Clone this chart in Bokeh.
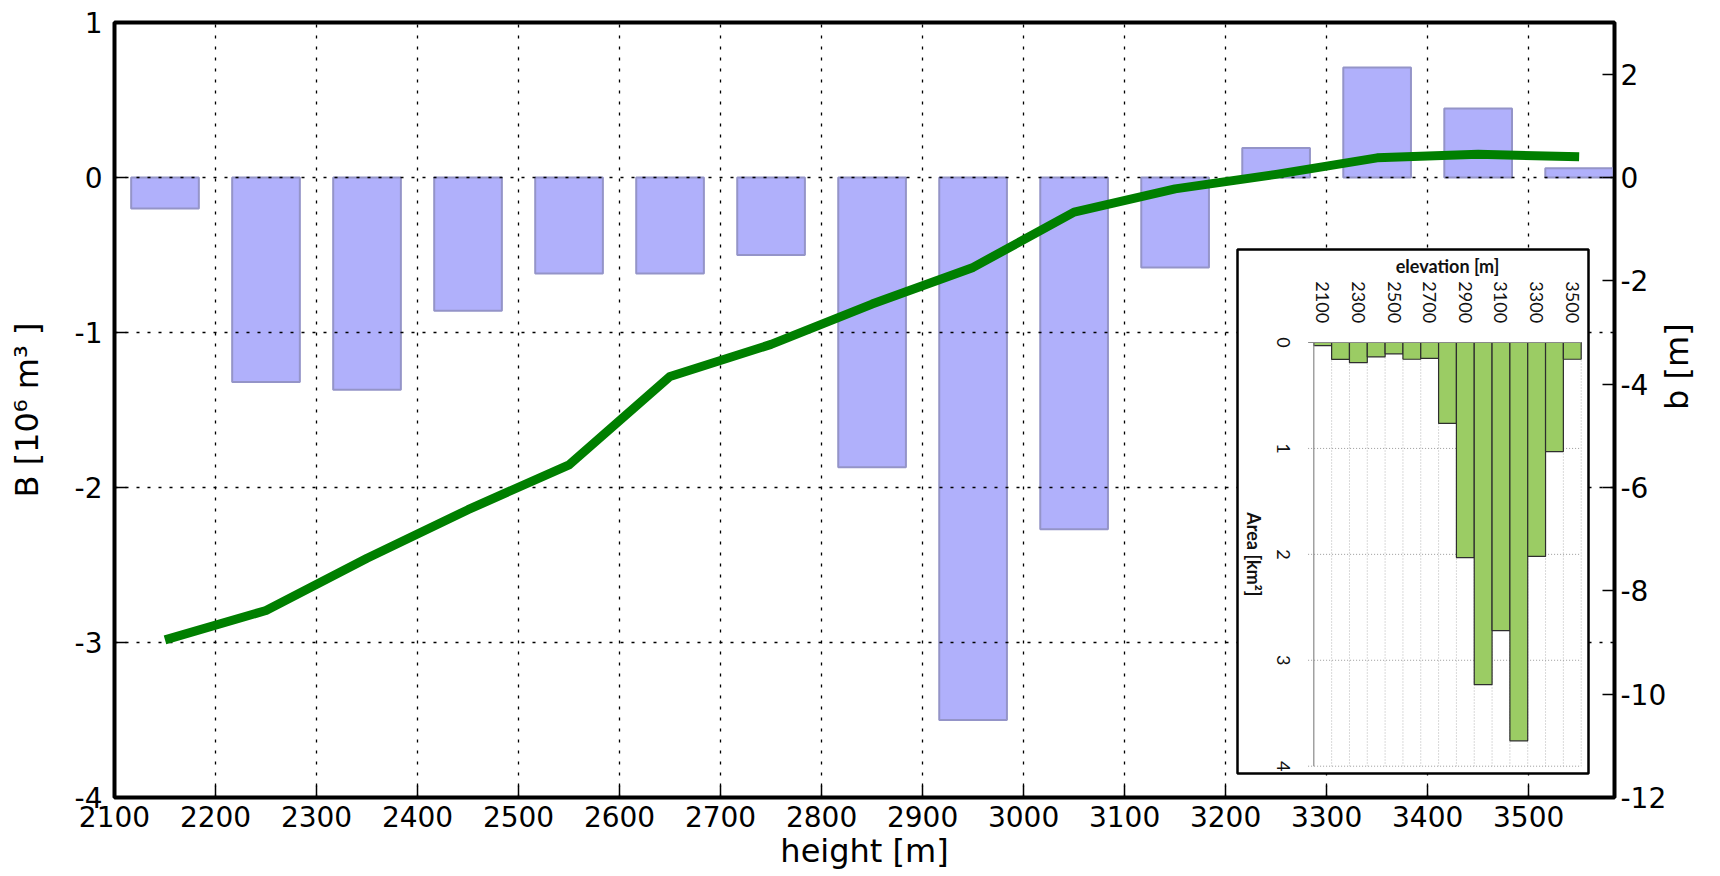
import numpy as np
from bokeh.plotting import figure
from bokeh.models import Range1d, LinearAxis, FixedTicker
from bokeh.core.properties import value
from bokeh.embed import file_html
from bokeh.resources import INLINE

# ---------------- data ----------------
heights = [2150, 2250, 2350, 2450, 2550, 2650, 2750, 2850, 2950, 3050, 3150, 3250, 3350, 3450, 3550]
B_volume = [-0.20, -1.32, -1.37, -0.86, -0.62, -0.62, -0.50, -1.87, -3.50, -2.27, -0.58, 0.19, 0.71, 0.445, 0.06]
b_specific = [-8.95, -8.38, -7.37, -6.43, -5.56, -3.85, -3.23, -2.45, -1.74, -0.67, -0.22, 0.06, 0.38, 0.45, 0.40]
x_ticks = [2100, 2200, 2300, 2400, 2500, 2600, 2700, 2800, 2900, 3000, 3100, 3200, 3300, 3400, 3500]
B_ticks = [-4, -3, -2, -1, 0, 1]
b_ticks = [-12, -10, -8, -6, -4, -2, 0, 2]

inset_elev = [2100, 2200, 2300, 2400, 2500, 2600, 2700, 2800, 2900, 3000, 3100, 3200, 3300, 3400, 3500]
inset_area = [0.03, 0.16, 0.19, 0.136, 0.107, 0.158, 0.15, 0.764, 2.03, 3.23, 2.72, 3.76, 2.02, 1.03, 0.158]
inset_elev_labels = [2100, 2300, 2500, 2700, 2900, 3100, 3300, 3500]
inset_area_ticks = [0, 1, 2, 3, 4]

# ---------------- layout ----------------
W, H = 1720, 876
FL, FR, FT, FB = 114, 1614, 22, 797          # frame edges in pixels
XR = (2100, 3585)
YR = (-4, 1)

p = figure(width=W, height=H, x_range=Range1d(*XR), y_range=Range1d(*YR),
           output_backend="svg", toolbar_location=None,
           min_border_left=FL, min_border_right=W - FR, min_border_top=FT, min_border_bottom=H - FB,
           background_fill_color="white", border_fill_color="white")
p.extra_y_ranges = {"b": Range1d(-12, 3)}
raxis = LinearAxis(y_range_name="b", axis_label="b [m]")
p.add_layout(raxis, "right")

p.outline_line_color = "black"
p.outline_line_width = 4

FONT = "DejaVu Sans"
for ax in [p.xaxis[0], p.yaxis[0], raxis]:
    ax.major_tick_in = 12
    ax.major_tick_out = 0
    ax.minor_tick_line_color = None
    ax.axis_line_color = "black"
    ax.axis_line_width = 3
    ax.major_tick_line_color = "black"
    ax.major_tick_line_width = 1.5
    ax.major_label_text_font = FONT
    ax.major_label_text_font_size = "28px"
    ax.major_label_text_color = "black"
    ax.axis_label_text_font = FONT
    ax.axis_label_text_font_size = "32px"
    ax.axis_label_text_font_style = "normal"
    ax.axis_label_text_color = "black"

p.xaxis[0].ticker = FixedTicker(ticks=x_ticks)
p.yaxis[0].ticker = FixedTicker(ticks=B_ticks)
raxis.ticker = FixedTicker(ticks=b_ticks)
p.yaxis[0].major_label_overrides = {t: str(t) for t in B_ticks}
raxis.major_label_overrides = {t: str(t) for t in b_ticks}
p.xaxis[0].axis_label = "height [m]"
p.yaxis[0].axis_label = "B [10\u2076 m\u00b3 ]"
p.xaxis[0].major_label_standoff = 8
p.xaxis[0].axis_label_standoff = 2
p.yaxis[0].major_label_standoff = 12
p.yaxis[0].axis_label_standoff = 26
raxis.major_label_standoff = 6
raxis.axis_label_standoff = 8
raxis.axis_label_orientation = np.pi / 2

for g in [p.xgrid[0], p.ygrid[0]]:
    g.grid_line_color = "black"
    g.grid_line_dash = "3 8"
    g.grid_line_width = 1.3
    g.level = "guide"

# bars (left axis) and line (right axis)
p.vbar(x=heights, top=B_volume, bottom=0, width=67,
       fill_color="#b0b0fb", line_color="#9494c8", line_width=2)
p.line(heights, b_specific, y_range_name="b", line_color="#007f00", line_width=9,
       line_join="round", level="annotation")

# ---------------- inset ----------------
def px2x(px):
    return XR[0] + (px - FL) * (XR[1] - XR[0]) / (FR - FL)

def px2y(py):
    return YR[1] - (py - FT) * (YR[1] - YR[0]) / (FB - FT)

BOX_L, BOX_R, BOX_T, BOX_B = 1237, 1588, 249, 773      # inset box pixels
PLOT_L, PLOT_R = 1313.3, 1580.7                        # inset column area pixels
ZERO_Y, FOUR_Y = 342.0, 765.7                          # inset value axis pixels
col_w = (PLOT_R - PLOT_L) / len(inset_elev)            # px per 100 m
unit_y = (FOUR_Y - ZERO_Y) / 4.0                       # px per km2
e0 = inset_elev[0] - 50
e1 = inset_elev[-1] + 50

xs_src = Range1d(e0 - (PLOT_L - BOX_L) * 100 / col_w, e1 + (BOX_R - PLOT_R) * 100 / col_w)
ys_src = Range1d((BOX_B - ZERO_Y) / unit_y, (BOX_T - ZERO_Y) / unit_y)
sub = p.subplot(x_source=xs_src, y_source=ys_src,
                x_target=Range1d(px2x(BOX_L), px2x(BOX_R)),
                y_target=Range1d(px2y(BOX_B), px2y(BOX_T)))

sub.quad(left=[xs_src.start], right=[xs_src.end], bottom=[ys_src.start], top=[ys_src.end],
         fill_color="white", line_color="black", line_width=2.5, level="overlay")

tick_len = 32
edges = [e + 50 for e in inset_elev]
# grid
sub.segment(x0=edges, y0=[0] * len(edges), x1=edges, y1=[4] * len(edges),
            line_color="#b4b4b4", line_dash="1 2", line_width=1, level="overlay")
sub.segment(x0=[e0 - tick_len] * 4, y0=inset_area_ticks[1:], x1=[e1] * 4, y1=inset_area_ticks[1:],
            line_color="#9a9a9a", line_dash="1 2", line_width=1, level="overlay")
# bars
sub.quad(left=[e - 50 for e in inset_elev], right=[e + 50 for e in inset_elev],
         top=[0] * len(inset_elev), bottom=inset_area,
         fill_color="#9bcc64", line_color="#2e2e2e", line_width=1.2, level="overlay")
# axes lines
sub.segment(x0=[e0], y0=[0], x1=[e0], y1=[4], line_color="#8a8a8a", line_width=1.2, level="overlay")
sub.segment(x0=[e0 - tick_len], y0=[0], x1=[e1], y1=[0], line_color="#8a8a8a", line_width=1.2, level="overlay")

IFONT = value("Lato")
sub.text(x=inset_elev_labels, y=[-0.38] * len(inset_elev_labels),
         text=[str(v) for v in inset_elev_labels], angle=-np.pi / 2,
         text_align="center", text_baseline="middle", text_font=IFONT,
         text_font_size="18px", text_color="#111111", level="overlay")
sub.text(x=[e0 - 168] * len(inset_area_ticks), y=inset_area_ticks,
         text=[str(v) for v in inset_area_ticks], angle=-np.pi / 2,
         text_align="center", text_baseline="middle", text_font=IFONT,
         text_font_size="18px", text_color="#111111", level="overlay")
sub.text(x=[(e0 + e1) / 2], y=[-0.72], text=["elevation [m]"],
         text_align="center", text_baseline="middle", text_font=IFONT,
         text_font_size="18px", text_font_style="bold", text_color="#111111", level="overlay")
sub.text(x=[e0 - 337], y=[2.0], text=["Area [km\u00b2]"],
         angle=-np.pi / 2, text_align="center", text_baseline="middle", text_font=IFONT,
         text_font_size="18px", text_font_style="bold", text_color="#111111", level="overlay")

open("out.html", "w").write(file_html(p, INLINE))
